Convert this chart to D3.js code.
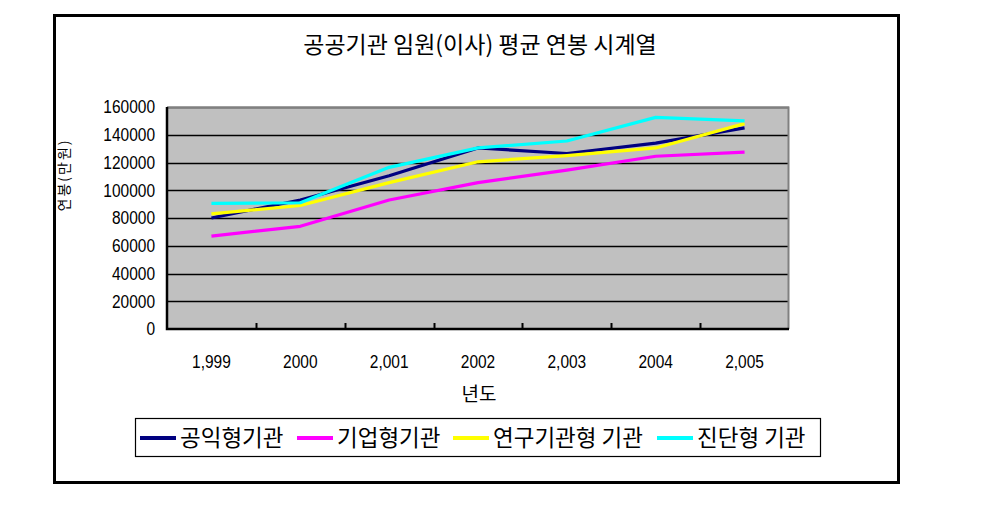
<!DOCTYPE html>
<html><head><meta charset="utf-8">
<script src="https://cdn.jsdelivr.net/npm/d3@7"></script>
<style>
html,body{margin:0;padding:0;background:#fff;}
svg{display:block;}
</style></head>
<body>
<svg id="c" width="992" height="513"></svg>
<script>
const title = "공공기관 임원(이사) 평균 연봉 시계열";
const yTitle = "연봉(만원)";
const xTitle = "년도";
const categories = ["1,999","2000","2,001","2002","2,003","2004","2,005"];
const yTicks = [0,20000,40000,60000,80000,100000,120000,140000,160000];
const seriesNames = ["공익형기관","기업형기관","연구기관형 기관","진단형 기관"];
const seriesColors = ["#000080","#FF00FF","#FFFF00","#00FFFF"];
const gongik = [80000,93000,110500,130500,126500,134000,145000];
const gieop  = [67000,74000,93000,105500,114500,124500,127500];
const yeongu = [83000,89000,105500,120500,125000,130500,148000];
const jindan = [90500,91000,116500,130500,135500,152500,150000];
const seriesValues = [gongik, gieop, yeongu, jindan];

const svg = d3.select("#c");
const KR = "'Noto Sans CJK KR','Noto Sans',sans-serif";
const NUM = "'Liberation Sans',Arial,sans-serif";

// outer frame
svg.append("rect").attr("x",54.5).attr("y",15.5).attr("width",844).attr("height",467)
  .attr("fill","#fff").attr("stroke","#000").attr("stroke-width",3);

const L=167, R=789, T=107, B=329;
const x = d3.scaleBand().domain(categories).range([L,R]);
const y = d3.scaleLinear().domain([0,160000]).range([B,T]);

// plot background
svg.append("rect").attr("x",L).attr("y",T).attr("width",R-L).attr("height",B-T).attr("fill","#C0C0C0");

// gridlines
svg.append("g").selectAll("line").data(yTicks.slice(1)).join("line")
  .attr("x1",L).attr("x2",R).attr("y1",d=>Math.round(y(d))+0.5).attr("y2",d=>Math.round(y(d))+0.5)
  .attr("stroke","#000").attr("stroke-width",1.3);

// top/right gray border
svg.append("path").attr("d",`M${L},${T+0.5}H${R-0.5}V${B}`).attr("fill","none").attr("stroke","#808080").attr("stroke-width",2);

function narrow(sel, f){
  sel.each(function(){
    const w = this.getComputedTextLength();
    d3.select(this).attr("textLength", w*f).attr("lengthAdjust","spacingAndGlyphs");
  });
}

// y axis
const ya = svg.append("g").attr("transform",`translate(${L},0)`)
  .call(d3.axisLeft(y).tickValues(yTicks).tickSize(0).tickPadding(12).tickFormat(d3.format("d")));
ya.select(".domain").remove();
ya.selectAll("text").attr("font-family",NUM).attr("font-size",18).attr("fill","#000").call(narrow,0.86);

// x axis
const xa = svg.append("g").attr("transform",`translate(0,${B})`)
  .call(d3.axisBottom(x).tickSize(0).tickPadding(26));
xa.select(".domain").remove();
xa.selectAll("text").attr("font-family",NUM).attr("font-size",18).attr("fill","#000").call(narrow,0.86);

// x tick marks at band boundaries (inside)
svg.append("g").selectAll("line").data(categories.slice(1)).join("line")
  .attr("x1",d=>Math.round(x(d))+0.5).attr("x2",d=>Math.round(x(d))+0.5)
  .attr("y1",B).attr("y2",B-6).attr("stroke","#000").attr("stroke-width",2);

// left/bottom black axis lines
svg.append("path").attr("d",`M${L},${T}V${B}H${R}`).attr("fill","none").attr("stroke","#000").attr("stroke-width",2.5);

// lines
const line = d3.line().x((d,i)=>x(categories[i])+x.bandwidth()/2).y(d=>y(d));
seriesValues.forEach((vals,i)=>{
  svg.append("path").datum(vals).attr("d",line).attr("fill","none")
    .attr("stroke",seriesColors[i]).attr("stroke-width",3.2).attr("stroke-linejoin","round");
});

// title
svg.append("text").attr("x",480).attr("y",53).attr("text-anchor","middle")
  .attr("font-family",KR).attr("font-size",23).attr("fill","#000").text(title);

// axis titles
svg.append("text").attr("transform","translate(69,175) rotate(-90)").attr("text-anchor","middle")
  .attr("font-family",KR).attr("font-size",14).attr("letter-spacing",2).attr("fill","#000").text(yTitle);
svg.append("text").attr("x",479).attr("y",401).attr("text-anchor","middle")
  .attr("font-family",KR).attr("font-size",19).attr("fill","#000").text(xTitle);

// legend
svg.append("rect").attr("x",135.5).attr("y",418.5).attr("width",685).attr("height",38)
  .attr("fill","#fff").attr("stroke","#000").attr("stroke-width",1.2);
const legX = [140,297,453,657];
const lg = svg.append("g").selectAll("g").data(seriesNames).join("g")
  .attr("transform",(d,i)=>`translate(${legX[i]},438)`);
lg.append("line").attr("x1",0).attr("x2",36).attr("y1",0).attr("y2",0)
  .attr("stroke",(d,i)=>seriesColors[i]).attr("stroke-width",4);
lg.append("text").attr("x",40).attr("y",8).attr("font-family",KR).attr("font-size",22.5)
  .attr("fill","#000").text(d=>d);
</script>
</body></html>
